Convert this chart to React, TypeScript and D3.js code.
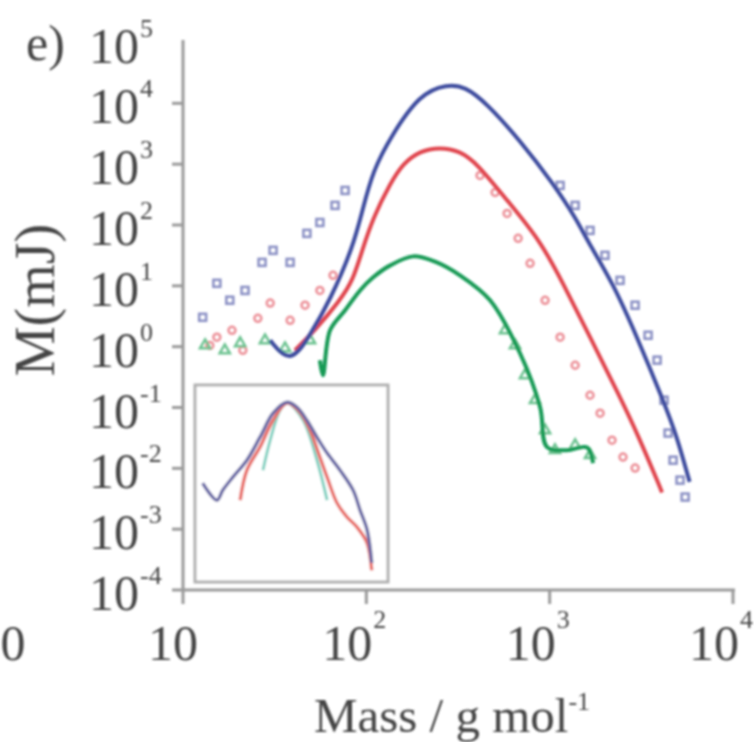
import React from "react";
import * as d3 from "d3";

// main curves: [mass g/mol, M (mJ)]
const blueLine: [number, number][] = [
  [29.9, 1.27], [38.4, 0.5], [49.3, 1.54], [63.4, 5.8], [84.6, 42.9], [96, 194],
  [109, 789], [135, 2740], [196, 14500], [276, 20500], [345, 19000], [455, 9930],
  [689, 2450], [1045, 482], [1412, 119], [1601, 55.8], [2218, 11], [2999, 1.43],
  [4157, 0.132], [4955, 0.0325], [5623, 0.0083], [5800, 0.006],
];
const redLine: [number, number][] = [
  [40.8, 0.87], [52.5, 1.86], [71.9, 5.8], [84.6, 12.3], [94.9, 38.3], [109, 133],
  [135, 482], [158.6, 1026], [196, 1650], [252, 1900], [324, 1650], [402, 1026],
  [586, 254], [887, 56], [1183, 11], [1660, 1.43], [2421, 0.148], [2999, 0.0379],
  [3999, 0.0049], [4100, 0.004],
];
const greenLine: [number, number][] = [
  [55.8, 0.6], [58, 0.34], [63.4, 1.86], [76.6, 3.96], [92.4, 8.4], [109, 13.8],
  [135, 21.7], [180, 30.5], [237, 25], [324, 14.9], [473, 5.78], [689, 0.78],
  [887, 0.101], [968, 0.0223], [1245, 0.0199], [1601, 0.022], [1725, 0.0122],
];

// markers
const blueMarks: [number, number][] = [
  [12.8, 3.04], [15.3, 11], [18, 5.8], [21.8, 8.4], [27, 24.3], [31, 38.3],
  [38.4, 24.3], [47.4, 72.8], [55.8, 110], [67.5, 210], [76.6, 370],
  [1140, 447], [1377, 210], [1660, 81.5], [2003, 31.7], [2421, 12.3], [2924, 4.8],
  [3443, 1.54], [3855, 0.6], [4207, 0.132], [4426, 0.038], [4713, 0.0136],
  [5142, 0.0064], [5483, 0.00337],
];
const redMarks: [number, number][] = [
  [14, 1.05], [15.3, 1.43], [18.5, 1.86], [21.2, 0.87], [25.6, 2.92], [29.9, 5.2],
  [38.4, 2.71], [46.3, 4.8], [55.8, 8.4], [65.8, 14.9],
  [417, 653], [504, 343], [586, 155], [673, 60.3], [782, 23.4], [944, 5.78],
  [1140, 1.43], [1377, 0.495], [1660, 0.159], [1884, 0.0805], [2188, 0.029],
  [2512, 0.0153], [2924, 0.0101],
];
const greenMarks: [number, number][] = [
  [13.2, 1.05], [16.9, 0.87], [20.5, 1.14], [28, 1.27], [36, 0.94], [49.3, 1.27],
  [571, 1.86], [647, 1.05], [734, 0.339], [832, 0.132], [944, 0.042],
  [1069, 0.0199], [1377, 0.024], [1660, 0.0165],
];

// inset curves (drawn on main axes)
const insetBlue: [number, number][] = [
  [12.8, 0.00571], [15.3, 0.003], [16.5, 0.00439], [18.7, 0.00716], [22.3, 0.0136],
  [26.3, 0.0325], [31, 0.0805], [36.9, 0.122], [41.9, 0.101], [47.4, 0.0618],
  [53.8, 0.0325], [61.1, 0.0178], [71.9, 0.0093], [84.6, 0.00439], [92.4, 0.00206],
  [101, 0.00097], [107, 0.00028],
];
const insetRed: [number, number][] = [
  [20.5, 0.003], [22.3, 0.0093], [26.3, 0.0223], [31, 0.0618], [36.9, 0.118],
  [43.4, 0.0837], [49.3, 0.0424], [55.8, 0.0153], [61.1, 0.00716], [69.2, 0.00269],
  [78.5, 0.00158], [88.9, 0.00108], [101, 0.00059], [107, 0.00021],
];
const insetGreen: [number, number][] = [
  [27.3, 0.0093], [29.9, 0.029], [33.8, 0.09], [36.9, 0.12], [45.2, 0.0618],
  [53.8, 0.0136], [61.1, 0.003],
];

const xTicks = [10, 100, 1000, 10000];
const xTickExp = ["", "2", "3", "4"];
const yTicks = [1e5, 1e4, 1e3, 1e2, 1e1, 1e0, 1e-1, 1e-2, 1e-3, 1e-4];
const yTickExp = ["5", "4", "3", "2", "1", "0", "-1", "-2", "-3", "-4"];

const x = d3.scaleLog().domain([10, 1e4]).range([183, 733]);
const y = d3.scaleLog().domain([1e-4, 1e5]).range([590, 42.5]);

const smooth = d3.line<[number, number]>()
  .x(d => x(d[0]))
  .y(d => y(d[1]))
  .curve(d3.curveBasis);
const line = d3.line<[number, number]>()
  .x(d => x(d[0]))
  .y(d => y(d[1]))
  .curve(d3.curveCatmullRom);

const axisGray = "#9a9a9a";
const textCol = "#444";
const font = "Liberation Serif, serif";

export default function App() {
  return (
    <svg width={754} height={742} style={{ position: "absolute", left: 0, top: 0, background: "#fff" }}
      fontFamily={font}>
      <defs>
        <filter id="soft">
          <feGaussianBlur stdDeviation="0.9" />
        </filter>
      </defs>
      <g filter="url(#soft)">
        {/* main data */}
        {blueMarks.map((d, i) => (
          <rect key={"bm" + i} x={x(d[0]) - 3.5} y={y(d[1]) - 3.5} width={7} height={7}
            fill="none" stroke="#8a90c4" strokeWidth={2.5} />
        ))}
        {redMarks.map((d, i) => (
          <circle key={"rm" + i} cx={x(d[0])} cy={y(d[1])} r={3.5}
            fill="none" stroke="#ec9098" strokeWidth={2.5} />
        ))}
        {greenMarks.map((d, i) => (
          <path key={"gm" + i} d={d3.symbol(d3.symbolTriangle, 45)() as string}
            transform={`translate(${x(d[0])},${y(d[1])})`}
            fill="none" stroke="#6cc290" strokeWidth={2.5} />
        ))}
        <path d={line(greenLine) as string} fill="none" stroke="#139a55" strokeWidth={4} />
        <path d={smooth(redLine) as string} fill="none" stroke="#e0444e" strokeWidth={4} />
        <path d={smooth(blueLine) as string} fill="none" stroke="#3d4c9e" strokeWidth={4} />

        {/* inset */}
        <rect x={195} y={385} width={193} height={197} fill="#fff" stroke="#b0b0b0" strokeWidth={3} />
        <path d={line(insetGreen) as string} fill="none" stroke="#7fd0c0" strokeWidth={3} />
        <path d={line(insetRed) as string} fill="none" stroke="#e8706a" strokeWidth={3.5} />
        <path d={line(insetBlue) as string} fill="none" stroke="#6a6aa6" strokeWidth={3.5} />

        {/* axes */}
        <line x1={183} x2={183} y1={40} y2={591} stroke={axisGray} strokeWidth={3} />
        <line x1={182} x2={735} y1={590} y2={590} stroke={axisGray} strokeWidth={3} />
        {yTicks.map((t, i) => (
          <g key={"yt" + i}>
            {i > 0 && <line x1={172} x2={183} y1={y(t)} y2={y(t)} stroke={axisGray} strokeWidth={3} />}
            <text x={139} y={y(t) + 20} textAnchor="end" fontSize={50} fill={textCol}>10</text>
            <text x={140} y={y(t) - 6} fontSize={26} fill={textCol}>{yTickExp[i]}</text>
          </g>
        ))}
        {xTicks.map((t, i) => (
          <g key={"xt" + i}>
            <line x1={x(t)} x2={x(t)} y1={590} y2={604} stroke={axisGray} strokeWidth={3} />
            <text x={x(t) + (xTickExp[i] ? 6 : 15)} y={660} textAnchor="end" fontSize={50} fill={textCol}>10</text>
            {xTickExp[i] && (
              <text x={x(t) + 7} y={628} fontSize={26} fill={textCol}>{xTickExp[i]}</text>
            )}
          </g>
        ))}
        <text x={13} y={660} textAnchor="middle" fontSize={50} fill={textCol}>0</text>

        {/* titles */}
        <text x={452} y={732} textAnchor="middle" fontSize={49} fill={textCol}>
          Mass / g mol<tspan dy={-22} fontSize={26}>-1</tspan>
        </text>
        <text transform="translate(54,300) rotate(-90)" textAnchor="middle" fontSize={56} fill={textCol}>
          M(mJ)
        </text>
        <text x={26} y={60} fontSize={50} fill={textCol}>e)</text>
      </g>
    </svg>
  );
}
